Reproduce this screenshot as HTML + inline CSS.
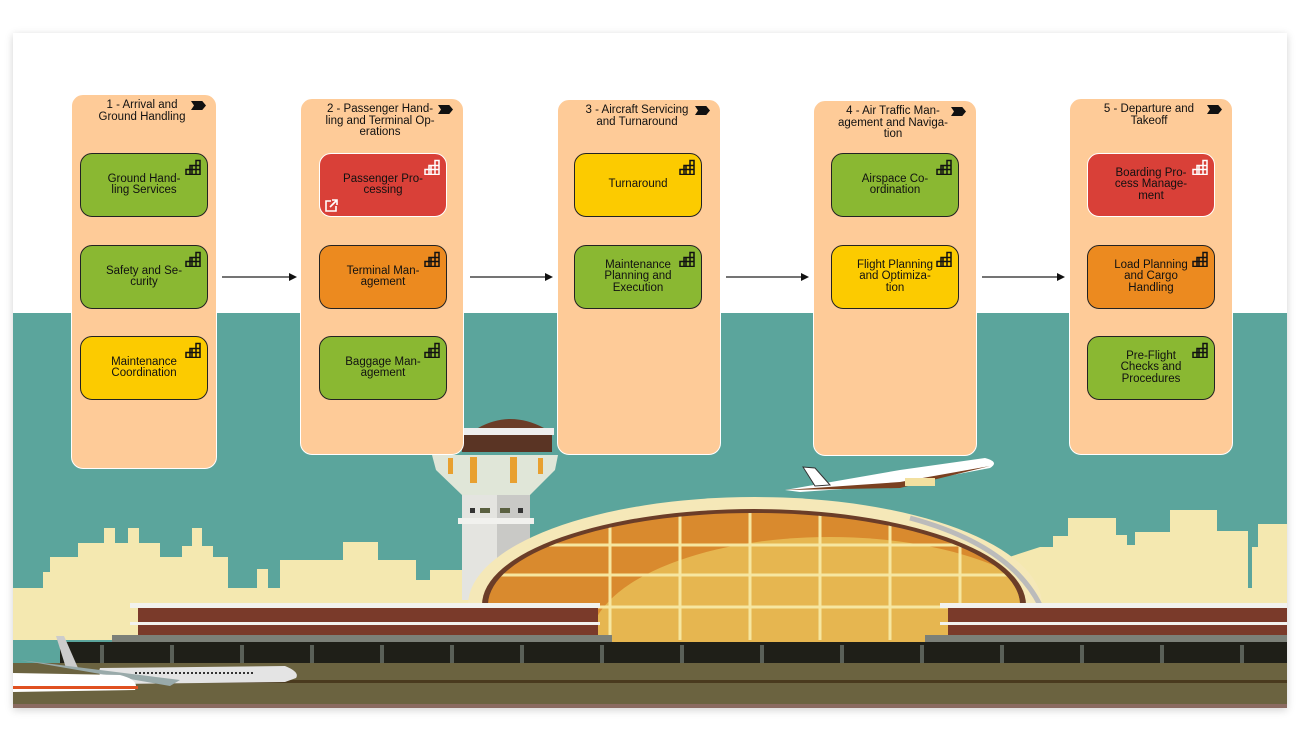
<!DOCTYPE html>
<html><head><meta charset="utf-8"><style>
*{margin:0;padding:0;box-sizing:border-box}
html,body{width:1300px;height:740px;overflow:hidden}
body{background:#fff;position:relative;font-family:"Liberation Sans",sans-serif}
#card{position:absolute;left:13px;top:33px;width:1274px;height:675px;background:#fff;box-shadow:0 2px 8px rgba(0,0,0,.18);overflow:hidden}
.lane{position:absolute;background:#fecb98;border:1px solid #fff;border-radius:12px}
.lt{position:absolute;left:0;right:0;top:5px;text-align:center;font-size:11.5px;line-height:11.5px;color:#111;padding:0 26px 0 22px}
.flag{position:absolute;top:6px;right:10px;width:15px;height:9px;background:#111;clip-path:polygon(0 0,75% 0,100% 50%,75% 100%,0 100%,20% 50%)}
.bx{position:absolute;width:128px;height:64px;border:1.3px solid #222;border-radius:12px;display:flex;align-items:center;justify-content:center;text-align:center;font-size:11.5px;line-height:11.5px;color:#111;padding:0 22px}
.g{background:#8ab832}.r{background:#d94038;border:1.5px solid #fff}.o{background:#ec8a1f}.y{background:#fccb00}
.ic{position:absolute;right:6px;top:5px}
</style></head><body>
<svg width="0" height="0" style="position:absolute;left:0;top:0"><defs>
<g id="st"><path d="M11,1.5h4v14h-14v-5h4v-4h6z M1,10.5h14 M5,6.5h10 M11,1.5v14 M7,6.5v9 M5,10.5v5" fill="none" stroke-width="1.5"/></g>
</defs></svg>
<div id="card">
<svg width="1274" height="675" viewBox="0 0 1274 675" style="position:absolute;left:0;top:0;display:block">
<defs><clipPath id="dm"><path d="M488,605 A266,92 0 0 1 1020,605 Z"/><rect x="488" y="604" width="532" height="38"/></clipPath></defs>
<rect x="0" y="280" width="1274" height="395" fill="#5ba59c"/>
<g transform="translate(-13,-33)">
<polygon fill="#f4e8b0" points="13,588 43,588 43,572 50,572 50,557 78,557 78,543 104,543 104,528 115,528 115,543 128,543 128,528 139,528 139,543 160,543 160,557 182,557 182,546 192,546 192,528 202,528 202,546 213,546 213,557 228,557 228,588 257,588 257,569 268,569 268,588 280,588 280,560 343,560 343,542 378,542 378,560 416,560 416,580 430,580 430,570 470,570 470,640 13,640"/>
<polygon fill="#f4e8b0" points="1000,560 1040,547 1053,547 1053,536 1068,536 1068,518 1116,518 1116,535 1127,535 1127,545 1135,545 1135,532 1170,532 1170,510 1217,510 1217,531 1248,531 1248,588 1252,588 1252,547 1258,547 1258,524 1287,524 1287,640 1000,640"/>
<rect x="462" y="490" width="68" height="110" fill="#e4e4e0"/>
<rect x="497" y="490" width="33" height="110" fill="#c9c9c6"/>
<rect x="458" y="518" width="76" height="6" fill="#f1f1ee"/>
<rect x="470" y="508" width="5" height="5" fill="#333"/><rect x="480" y="508" width="10" height="5" fill="#5a6040"/><rect x="500" y="508" width="10" height="5" fill="#5a6040"/><rect x="518" y="508" width="5" height="5" fill="#333"/>
<polygon fill="#e0e6d8" points="432,455 558,455 555,470 530,495 462,495 436,470"/>
<rect x="470" y="457" width="7" height="26" fill="#e8a030"/><rect x="510" y="457" width="7" height="26" fill="#e8a030"/>
<rect x="448" y="458" width="5" height="16" fill="#e8a030"/><rect x="538" y="458" width="5" height="16" fill="#e8a030"/>
<rect x="462" y="434" width="90" height="18" fill="#5a3424"/>
<rect x="458" y="428" width="96" height="7" fill="#eee"/>
<path d="M478,428 Q510,410 544,428 Z" fill="#6b3d28"/>
<path d="M468,605 A287,108 0 0 1 1042,605 Z" fill="#f5e8b8"/>
<path d="M482,605 A272,96 0 0 1 1026,605 Z" fill="#6b3d28"/>
<g clip-path="url(#dm)">
<rect x="480" y="500" width="560" height="142" fill="#d98a2e"/>
<path d="M590,642 A240,105 0 0 1 1070,642 Z" fill="#e6b650"/>
<g stroke="#f6e6a0" stroke-width="3">
<line x1="610" y1="500" x2="610" y2="640"/><line x1="680" y1="500" x2="680" y2="640"/><line x1="750" y1="500" x2="750" y2="640"/><line x1="820" y1="500" x2="820" y2="640"/><line x1="890" y1="500" x2="890" y2="640"/><line x1="960" y1="500" x2="960" y2="640"/>
<line x1="480" y1="545" x2="1030" y2="545"/><line x1="480" y1="575" x2="1030" y2="575"/><line x1="480" y1="607" x2="1030" y2="607"/>
</g></g>
<path d="M910,518 Q1010,545 1040,605" stroke="#bbb" stroke-width="5" fill="none"/>
<rect x="130" y="603" width="470" height="5" fill="#f2f2ee"/>
<rect x="138" y="608" width="460" height="28" fill="#7a3a2a"/>
<rect x="130" y="622" width="470" height="3" fill="#f2f2ee"/>
<rect x="940" y="603" width="347" height="5" fill="#f2f2ee"/>
<rect x="948" y="608" width="339" height="28" fill="#7a3a2a"/>
<rect x="940" y="622" width="347" height="3" fill="#f2f2ee"/>
<rect x="112" y="635" width="500" height="10" fill="#7c8078"/>
<rect x="925" y="635" width="362" height="10" fill="#7c8078"/>
<rect x="60" y="642" width="1227" height="21" fill="#1f1f18"/>
<g fill="#5a6058"><rect x="100" y="645" width="4" height="18"/><rect x="170" y="645" width="4" height="18"/><rect x="240" y="645" width="4" height="18"/><rect x="310" y="645" width="4" height="18"/><rect x="380" y="645" width="4" height="18"/><rect x="450" y="645" width="4" height="18"/><rect x="520" y="645" width="4" height="18"/><rect x="600" y="645" width="4" height="18"/><rect x="680" y="645" width="4" height="18"/><rect x="760" y="645" width="4" height="18"/><rect x="840" y="645" width="4" height="18"/><rect x="920" y="645" width="4" height="18"/><rect x="1000" y="645" width="4" height="18"/><rect x="1080" y="645" width="4" height="18"/><rect x="1160" y="645" width="4" height="18"/><rect x="1240" y="645" width="4" height="18"/></g>
<rect x="13" y="663" width="1274" height="41" fill="#6b6340"/>
<rect x="13" y="680" width="1274" height="3" fill="#4a3a1e"/>
<rect x="13" y="704" width="1274" height="4" fill="#8a6a60"/>
<path d="M100,668 L285,666 Q300,672 296,678 L285,682 L120,684 Q95,680 100,668 Z" fill="#e4e4e4"/>
<path d="M56,636 L64,636 L78,668 L66,668 Z" fill="#ccc"/>
<path d="M20,660 L180,680 L170,686 Z" fill="#9aa"/>
<line x1="135" y1="673" x2="255" y2="673" stroke="#333" stroke-width="2" stroke-dasharray="2 2"/>
<path d="M13,673 L120,675 Q140,680 135,690 L13,692 Z" fill="#fff"/>
<rect x="13" y="686" width="125" height="3" fill="#e05020"/>
<path d="M785,490 L900,470 L985,458 Q1000,462 990,468 L900,485 L800,492 Z" fill="#fff"/>
<path d="M785,490 L900,482 L990,466 L900,488 Z" fill="#7a4020"/>
<path d="M803,467 L815,468 L830,485 L815,486 Z" fill="#fff" stroke="#333" stroke-width="1"/>
<rect x="905" y="478" width="30" height="8" fill="#f2e0a0"/>
</g>
<g stroke="#222" stroke-width="1.3">
<line x1="209" y1="244" x2="278" y2="244"/><line x1="457" y1="244" x2="534" y2="244"/><line x1="713" y1="244" x2="790" y2="244"/><line x1="969" y1="244" x2="1046" y2="244"/>
</g>
<g fill="#111">
<polygon points="284,244 276,240 276,248"/><polygon points="540,244 532,240 532,248"/><polygon points="796,244 788,240 788,248"/><polygon points="1052,244 1044,240 1044,248"/>
</g>
</svg>
</div>

<div class="lane" style="left:71px;top:94px;width:146px;height:375px"><div class="lt">1 - Arrival and Ground Handling</div><div class="flag"></div></div>
<div class="lane" style="left:300px;top:98px;width:164px;height:357px"><div class="lt">2 - Passenger Hand-ling and Terminal Op-erations</div><div class="flag"></div></div>
<div class="lane" style="left:557px;top:99px;width:164px;height:356px"><div class="lt">3 - Aircraft Servicing and Turnaround</div><div class="flag"></div></div>
<div class="lane" style="left:813px;top:100px;width:164px;height:356px"><div class="lt">4 - Air Traffic Man-agement and Naviga-tion</div><div class="flag"></div></div>
<div class="lane" style="left:1069px;top:98px;width:164px;height:357px"><div class="lt">5 - Departure and Takeoff</div><div class="flag"></div></div>

<div class="bx g" style="left:80px;top:153px">Ground Hand-ling Services<svg class="ic" width="16" height="16" stroke="#111"><use href="#st"/></svg></div>
<div class="bx g" style="left:80px;top:245px">Safety and Se-curity<svg class="ic" width="16" height="16" stroke="#111"><use href="#st"/></svg></div>
<div class="bx y" style="left:80px;top:336px">Maintenance Coordination<svg class="ic" width="16" height="16" stroke="#111"><use href="#st"/></svg></div>

<div class="bx r" style="left:319px;top:153px">Passenger Pro-cessing<svg class="ic" width="16" height="16" stroke="#fff"><use href="#st"/></svg><svg style="position:absolute;left:4px;bottom:3px" width="15" height="15" fill="none" stroke="#fff" stroke-width="1.6"><path d="M7,3H2v10h10V8M8,2h5v5M13,2L6,9"/></svg></div>
<div class="bx o" style="left:319px;top:245px">Terminal Man-agement<svg class="ic" width="16" height="16" stroke="#111"><use href="#st"/></svg></div>
<div class="bx g" style="left:319px;top:336px">Baggage Man-agement<svg class="ic" width="16" height="16" stroke="#111"><use href="#st"/></svg></div>

<div class="bx y" style="left:574px;top:153px">Turnaround<svg class="ic" width="16" height="16" stroke="#111"><use href="#st"/></svg></div>
<div class="bx g" style="left:574px;top:245px">Maintenance Planning and Execution<svg class="ic" width="16" height="16" stroke="#111"><use href="#st"/></svg></div>

<div class="bx g" style="left:831px;top:153px">Airspace Co-ordination<svg class="ic" width="16" height="16" stroke="#111"><use href="#st"/></svg></div>
<div class="bx y" style="left:831px;top:245px">Flight Planning and Optimiza-tion<svg class="ic" width="16" height="16" stroke="#111"><use href="#st"/></svg></div>

<div class="bx r" style="left:1087px;top:153px">Boarding Pro-cess Manage-ment<svg class="ic" width="16" height="16" stroke="#fff"><use href="#st"/></svg></div>
<div class="bx o" style="left:1087px;top:245px">Load Planning and Cargo Handling<svg class="ic" width="16" height="16" stroke="#111"><use href="#st"/></svg></div>
<div class="bx g" style="left:1087px;top:336px">Pre-Flight Checks and Procedures<svg class="ic" width="16" height="16" stroke="#111"><use href="#st"/></svg></div>
</body></html>
